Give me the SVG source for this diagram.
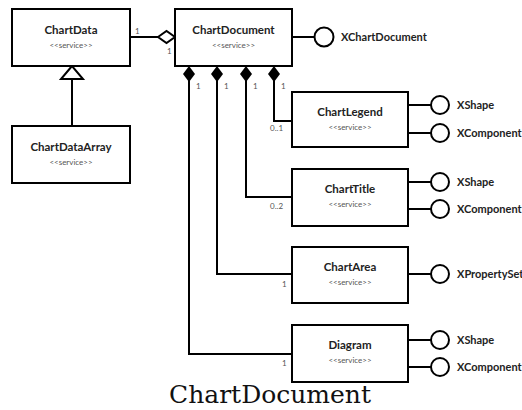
<svg xmlns="http://www.w3.org/2000/svg" width="522" height="410" viewBox="0 0 522 410">
<style>
.box{fill:#fff;stroke:#000;stroke-width:2}
.name{font-family:Lato,"Open Sans",sans-serif;font-weight:bold;font-size:11.5px;fill:#222;text-anchor:middle}
.st{font-family:Lato,"Open Sans",sans-serif;font-size:8px;fill:#555;text-anchor:middle}
.ln{fill:none;stroke:#000;stroke-width:2}
.lol{fill:#fff;stroke:#000;stroke-width:2}
.if{font-family:Lato,"Open Sans",sans-serif;font-weight:bold;font-size:11px;fill:#222}
.m{font-family:Lato,"Open Sans",sans-serif;font-size:8px;fill:#555}
.cap{font-family:"DejaVu Serif",serif;font-size:25px;fill:#111;text-anchor:middle}
</style>
<g id="connectors">
<path class="ln" d="M130,37H159"/>
<polygon points="158,37 166.5,31 175,37 166.5,43" fill="#fff" stroke="#000" stroke-width="2"/>
<path class="ln" d="M72,78V126"/>
<polygon points="72,66 61,79 83,79" fill="#fff" stroke="#000" stroke-width="2"/>
<path class="ln" d="M189,80V354H292"/>
<path class="ln" d="M217,80V274H292"/>
<path class="ln" d="M246,80V197H292"/>
<path class="ln" d="M274,80V121H292"/>
<polygon points="189,66 195,74 189,82 183,74" fill="#000"/>
<polygon points="217,66 223,74 217,82 211,74" fill="#000"/>
<polygon points="246,66 252,74 246,82 240,74" fill="#000"/>
<polygon points="274,66 280,74 274,82 268,74" fill="#000"/>
<text class="m" x="135" y="34">1</text>
<text class="m" x="167" y="54">1</text>
<text class="m" x="196" y="89">1</text>
<text class="m" x="224" y="89">1</text>
<text class="m" x="253" y="89">1</text>
<text class="m" x="281" y="89">1</text>
<text class="m" x="270" y="131">0..1</text>
<text class="m" x="270" y="209">0..2</text>
<text class="m" x="282" y="287">1</text>
<text class="m" x="282" y="366">1</text>
</g>
<g id="ChartData">
<rect class="box" x="12" y="9" width="118" height="57"/>
<text class="name" x="71" y="34">ChartData</text>
<text class="st" x="71" y="48">&lt;&lt;service&gt;&gt;</text>
</g>
<g id="ChartDataArray">
<rect class="box" x="12" y="126" width="118" height="57"/>
<text class="name" x="71" y="151">ChartDataArray</text>
<text class="st" x="71" y="165">&lt;&lt;service&gt;&gt;</text>
</g>
<g id="ChartDocument">
<rect class="box" x="175" y="9" width="117" height="57"/>
<text class="name" x="233.5" y="34">ChartDocument</text>
<text class="st" x="233.5" y="48">&lt;&lt;service&gt;&gt;</text>
<path class="ln" d="M292,37H315"/>
<circle class="lol" cx="324" cy="37" r="9.5"/>
<text class="if" x="341" y="41">XChartDocument</text>
</g>
<g id="ChartLegend">
<rect class="box" x="292" y="92" width="116" height="55"/>
<text class="name" x="350" y="116">ChartLegend</text>
<text class="st" x="350" y="130">&lt;&lt;service&gt;&gt;</text>
<path class="ln" d="M408,105H431M408,133H431"/>
<circle class="lol" cx="440" cy="105" r="9"/>
<circle class="lol" cx="440" cy="133" r="9"/>
<text class="if" x="457" y="109">XShape</text>
<text class="if" x="457" y="137">XComponent</text>
</g>
<g id="ChartTitle">
<rect class="box" x="292" y="169" width="116" height="57"/>
<text class="name" x="350" y="193">ChartTitle</text>
<text class="st" x="350" y="207">&lt;&lt;service&gt;&gt;</text>
<path class="ln" d="M408,182H431M408,209H431"/>
<circle class="lol" cx="440" cy="182" r="9"/>
<circle class="lol" cx="440" cy="209" r="9"/>
<text class="if" x="457" y="186">XShape</text>
<text class="if" x="457" y="213">XComponent</text>
</g>
<g id="ChartArea">
<rect class="box" x="292" y="247" width="116" height="56"/>
<text class="name" x="350" y="271">ChartArea</text>
<text class="st" x="350" y="285">&lt;&lt;service&gt;&gt;</text>
<path class="ln" d="M408,274H431"/>
<circle class="lol" cx="440" cy="274" r="9"/>
<text class="if" x="457" y="278">XPropertySet</text>
</g>
<g id="Diagram">
<rect class="box" x="292" y="325" width="116" height="57"/>
<text class="name" x="350" y="349">Diagram</text>
<text class="st" x="350" y="363">&lt;&lt;service&gt;&gt;</text>
<path class="ln" d="M408,340H431M408,367H431"/>
<circle class="lol" cx="440" cy="340" r="9"/>
<circle class="lol" cx="440" cy="367" r="9"/>
<text class="if" x="457" y="344">XShape</text>
<text class="if" x="457" y="371">XComponent</text>
</g>
<text class="cap" x="270" y="403">ChartDocument</text>
</svg>
